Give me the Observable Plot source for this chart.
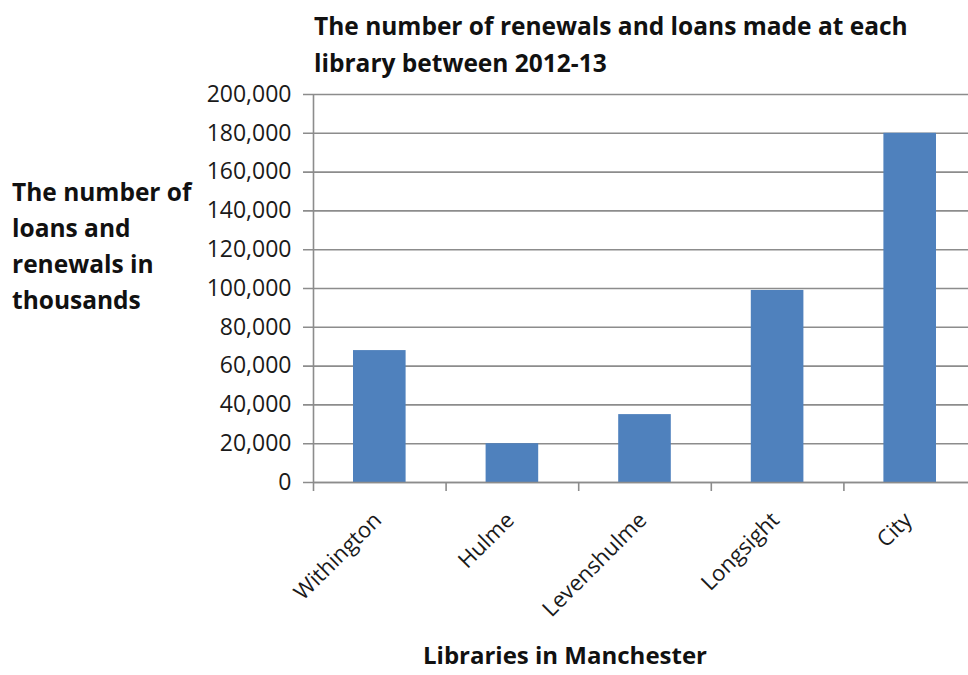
<!DOCTYPE html>
<html>
<head>
<meta charset="utf-8">
<script src="https://cdn.jsdelivr.net/npm/d3@7"></script>
<script src="https://cdn.jsdelivr.net/npm/@observablehq/plot@0.6"></script>
<style>
  html, body { margin: 0; padding: 0; background: #fff; overflow: hidden; width: 968px; height: 675px; }
  #wrap { position: relative; width: 968px; height: 675px; overflow: hidden; font-family: "Open Sans", sans-serif; }
  #chart { position: absolute; left: 0; top: 0; width: 976px; }
  #chart svg { max-width: none !important; }
  .lbl { position: absolute; font-weight: bold; font-size: 24.5px; color: #111; line-height: 36px; white-space: nowrap; }
</style>
</head>
<body>
<div id="wrap">
  <div id="chart"></div>
  <div class="lbl" id="title" style="left:314px; top:7px; line-height:37px;">The number of renewals and loans made at each<br>library between 2012-13</div>
  <div class="lbl" id="ylabel" style="left:12px; top:174px;">The number of<br>loans and<br>renewals in<br>thousands</div>
  <div class="lbl" id="xlabel" style="left:365px; width:400px; text-align:center; top:642px; line-height:26px; height:26px; font-size:24px;">Libraries in Manchester</div>
</div>
<script>
const libraries = ["Withington", "Hulme", "Levenshulme", "Longsight", "City"];
const loans = [68000, 20000, 35000, 99000, 180000];
const yTicks = [0, 20000, 40000, 60000, 80000, 100000, 120000, 140000, 160000, 180000, 200000];
const xBoundaries = [0, 1, 2, 3, 4, 5];

const data = libraries.map((name, i) => ({ name, i, value: loans[i] }));
const fmt = d3.format(",");

const plot = Plot.plot({
  width: 976,
  height: 675,
  marginLeft: 313,
  marginRight: 0,
  marginTop: 94,
  marginBottom: 193,
  style: { fontFamily: "'Open Sans', sans-serif", background: "#fff", overflow: "visible", maxWidth: "none" },
  x: { type: "linear", domain: [0, 5], axis: null },
  y: { type: "linear", domain: [0, 200000], axis: null },
  marks: [
    Plot.ruleY(yTicks, { y: d => d, x1: 0, x2: 5, stroke: "#8c8c8c", strokeWidth: 1.6, insetLeft: -10 }),
    Plot.rectY(data, { x1: d => d.i, x2: d => d.i + 1, y: "value", fill: "#4f81bd", insetLeft: 40, insetRight: 40 }),
    Plot.ruleX([0], { x: d => d, y1: 0, y2: 200000, stroke: "#8c8c8c", strokeWidth: 1.6 }),
    Plot.ruleY([0], { y: d => d, x1: 0, x2: 5, stroke: "#8c8c8c", strokeWidth: 1.6 }),
    Plot.ruleX(xBoundaries, { x: d => d, y1: 0, y2: 0, stroke: "#8c8c8c", strokeWidth: 1.6, insetBottom: -9 }),
    Plot.text(yTicks, { y: d => d, x: 0, text: d => fmt(d), textAnchor: "end", dx: -22, fontSize: 23, fill: "#1a1a1a" }),
    Plot.text(data, { x: d => d.i + 0.5, y: 0, text: "name", rotate: -45, textAnchor: "end", lineAnchor: "middle", dy: 34, dx: -2, fontSize: 22, fill: "#1a1a1a" })
  ]
});
document.getElementById("chart").appendChild(plot);
</script>
</body>
</html>
